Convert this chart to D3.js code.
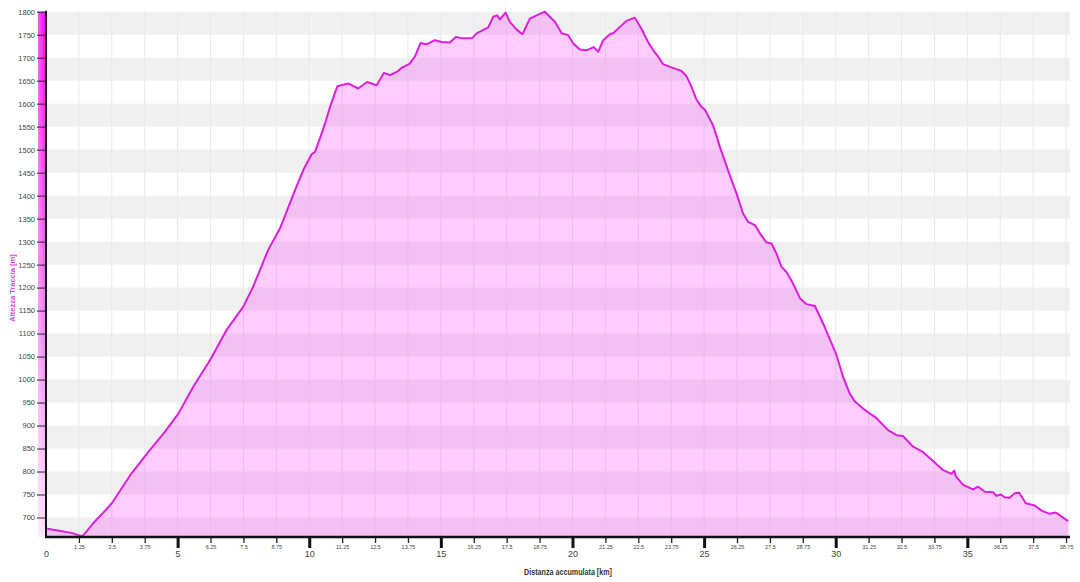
<!DOCTYPE html>
<html><head><meta charset="utf-8">
<script src="https://cdn.jsdelivr.net/npm/d3@7"></script>
<style>
body{margin:0;background:#fff}
svg{display:block}
text{font-family:"Liberation Sans",Arial,sans-serif}
</style>
</head><body>
<svg id="c" width="1080" height="582"></svg>
<script>
const distanceKm = [0, 0.5, 1.0, 1.27, 1.4, 1.8, 2.2, 2.5, 3.2, 3.95,
  4.5, 5.03, 5.6, 6.23, 6.86, 7.49, 7.87, 8.44, 8.89, 9.14,
  9.46, 9.77, 10.09, 10.22, 10.47, 10.6, 10.79, 11.07, 11.48, 11.86,
  12.2, 12.56, 12.84, 13.07, 13.38, 13.51, 13.82, 14.01, 14.23, 14.46,
  14.77, 15.03, 15.34, 15.57, 15.85, 16.2, 16.36, 16.8, 16.99, 17.14,
  17.24, 17.46, 17.62, 17.88, 18.1, 18.38, 18.64, 18.95, 19.14, 19.33,
  19.59, 19.84, 20.03, 20.28, 20.53, 20.81, 20.98, 21.17, 21.42, 21.55,
  21.8, 22.05, 22.37, 22.62, 22.87, 23.07, 23.26, 23.44, 23.7, 23.95,
  24.14, 24.33, 24.52, 24.71, 24.9, 25.03, 25.34, 25.6, 25.91, 26.23,
  26.48, 26.67, 26.93, 27.12, 27.37, 27.56, 27.75, 27.94, 28.13, 28.38,
  28.64, 28.89, 29.21, 29.52, 29.84, 30.03, 30.28, 30.53, 30.72, 31.1,
  31.55, 31.99, 32.31, 32.56, 32.94, 33.32, 33.7, 34.08, 34.4, 34.5,
  34.56, 34.84, 35.22, 35.41, 35.66, 35.98, 36.1, 36.27, 36.42, 36.61,
  36.8, 36.97, 37.22, 37.56, 37.82, 38.13, 38.36, 38.58, 38.83];
const elevationM = [676, 671, 666, 661, 660, 688, 712, 731, 792, 847,
  885, 926, 985, 1042, 1108, 1158, 1202, 1282, 1329, 1365,
  1412, 1455, 1490, 1495, 1535, 1557, 1593, 1638, 1644, 1633,
  1647, 1640, 1667, 1662, 1671, 1678, 1687, 1702, 1732, 1729,
  1738, 1734, 1733, 1745, 1742, 1743, 1753, 1766, 1789, 1792,
  1783, 1798, 1778, 1761, 1751, 1785, 1792, 1800, 1789, 1778,
  1753, 1749, 1731, 1718, 1716, 1723, 1713, 1738, 1751, 1753,
  1767, 1780, 1787, 1763, 1734, 1716, 1702, 1686, 1680, 1675,
  1671, 1660, 1637, 1609, 1593, 1587, 1553, 1506, 1455, 1405,
  1361, 1343, 1336, 1318, 1298, 1296, 1274, 1245, 1234, 1209,
  1177, 1164, 1160, 1122, 1079, 1053, 1006, 970, 953, 934,
  916, 890, 879, 877, 854, 842, 823, 803, 795, 802,
  790, 771, 761, 767, 756, 755, 747, 750, 744, 743,
  753, 754, 731, 726, 715, 708, 711, 702, 692];
const xMajorTicks = [0, 5, 10, 15, 20, 25, 30, 35];
const xMinorTicks = [1.25, 2.5, 3.75, 6.25, 7.5, 8.75, 11.25, 12.5, 13.75, 16.25, 17.5, 18.75,
  21.25, 22.5, 23.75, 26.25, 27.5, 28.75, 31.25, 32.5, 33.75, 36.25, 37.5, 38.75];
const yTicks = [700, 750, 800, 850, 900, 950, 1000, 1050, 1100, 1150, 1200, 1250,
  1300, 1350, 1400, 1450, 1500, 1550, 1600, 1650, 1700, 1750, 1800];
const grayBandStarts = [650, 750, 850, 950, 1050, 1150, 1250, 1350, 1450, 1550, 1650, 1750];
const xDomain = [0, 38.9];
const yDomain = [657.6, 1800];
const xTitle = "Distanza accumulata [km]";
const yTitle = "Altezza Traccia [m]";

const data = distanceKm.map((d, i) => ({d, e: elevationM[i]}));
const svg = d3.select("#c");
const L = 46, R = 1070, T = 11.7, B = 537;
const x = d3.scaleLinear().domain(xDomain).range([L, R]);
const y = d3.scaleLinear().domain(yDomain).range([B, T]);

const defs = svg.append("defs");
const g1 = defs.append("linearGradient").attr("id", "barV").attr("x1", 0).attr("y1", 0).attr("x2", 0).attr("y2", 1);
g1.append("stop").attr("offset", "0%").attr("stop-color", "#f000f0");
g1.append("stop").attr("offset", "45%").attr("stop-color", "#f655f6");
g1.append("stop").attr("offset", "100%").attr("stop-color", "#fde0fd");
const g2 = defs.append("linearGradient").attr("id", "barH").attr("x1", 0).attr("y1", 0).attr("x2", 1).attr("y2", 0);
g2.append("stop").attr("offset", "0%").attr("stop-color", "#fff").attr("stop-opacity", 0.35);
g2.append("stop").attr("offset", "100%").attr("stop-color", "#fff").attr("stop-opacity", 0);

svg.append("g").selectAll("rect").data(grayBandStarts).join("rect")
  .attr("x", L).attr("width", R - L)
  .attr("y", b => y(Math.min(b + 50, yDomain[1])))
  .attr("height", b => y(Math.max(b, yDomain[0])) - y(Math.min(b + 50, yDomain[1])))
  .attr("fill", "#f0f0f0");

svg.append("g").selectAll("line").data(xMinorTicks.concat(xMajorTicks.slice(1))).join("line")
  .attr("x1", d => x(d)).attr("x2", d => x(d)).attr("y1", T).attr("y2", B)
  .attr("stroke", "#e9e9e9").attr("stroke-width", 1);

svg.append("path").datum(data)
  .attr("d", d3.area().x(p => x(p.d)).y0(B).y1(p => y(p.e)))
  .attr("fill", "rgba(255,0,255,0.2)");
svg.append("path").datum(data)
  .attr("d", d3.line().x(p => x(p.d)).y(p => y(p.e)))
  .attr("fill", "none").attr("stroke", "#dc1fdc").attr("stroke-width", 2).attr("stroke-linejoin", "round");

svg.append("rect").attr("x", 38).attr("y", T).attr("width", 8).attr("height", B - T).attr("fill", "url(#barV)");
svg.append("rect").attr("x", 38).attr("y", T).attr("width", 8).attr("height", B - T).attr("fill", "url(#barH)");

const ya = svg.append("g").attr("transform", `translate(${L},0)`)
  .call(d3.axisLeft(y).tickValues(yTicks).tickSize(9).tickSizeOuter(0).tickPadding(2).tickFormat(d => String(d)));
ya.select(".domain").remove();
ya.selectAll(".tick line").attr("stroke", "#222").attr("stroke-width", 1);
ya.selectAll(".tick text").attr("font-size", 7.5).attr("fill", "#444").attr("font-family", "Liberation Sans, Arial, sans-serif");

const xm = svg.append("g").attr("transform", `translate(0,${B})`)
  .call(d3.axisBottom(x).tickValues(xMinorTicks).tickSize(6).tickSizeOuter(0).tickPadding(2.5).tickFormat(d => String(d)));
xm.select(".domain").remove();
xm.selectAll(".tick line").attr("stroke", "#222").attr("stroke-width", 1.3);
xm.selectAll(".tick text").attr("font-size", 5.5).attr("fill", "#444").attr("font-family", "Liberation Sans, Arial, sans-serif");

const xM = svg.append("g").attr("transform", `translate(0,${B})`)
  .call(d3.axisBottom(x).tickValues(xMajorTicks).tickSize(11).tickSizeOuter(0).tickPadding(2.5).tickFormat(d => String(d)));
xM.select(".domain").remove();
xM.selectAll(".tick line").attr("stroke", "#111").attr("stroke-width", d => d === 0 ? 0 : 3);
xM.selectAll(".tick text").attr("font-size", 9).attr("fill", "#444").attr("font-family", "Liberation Sans, Arial, sans-serif");

svg.append("line").attr("x1", L).attr("x2", L).attr("y1", T - 1).attr("y2", B + 1)
  .attr("stroke", "#111").attr("stroke-width", 2);
svg.append("line").attr("x1", L - 1).attr("x2", R).attr("y1", B).attr("y2", B)
  .attr("stroke", "#111").attr("stroke-width", 2.5);

svg.append("text").attr("x", (L + R) / 2 + 10).attr("y", 573).attr("text-anchor", "middle")
  .attr("dominant-baseline", "middle").attr("font-size", 9).attr("font-weight", "bold")
  .attr("fill", "#333").attr("textLength", 88).attr("lengthAdjust", "spacingAndGlyphs").text(xTitle);
svg.append("text").attr("transform", "translate(13,288) rotate(-90)").attr("text-anchor", "middle")
  .attr("dominant-baseline", "middle").attr("font-size", 7.5).attr("font-weight", "bold")
  .attr("fill", "#e040e0").text(yTitle);
</script>
</body></html>
